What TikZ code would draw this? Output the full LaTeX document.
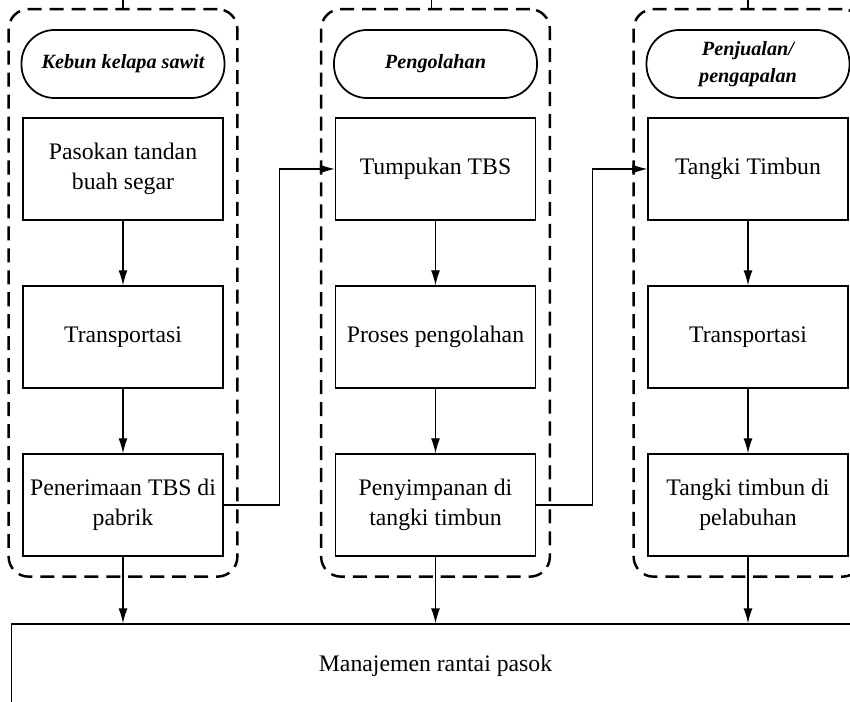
\documentclass[tikz,border=0pt]{standalone}
\usepackage{fontspec}
\setmainfont{Liberation Serif}
\usetikzlibrary{arrows.meta, fit}
\tikzset{every picture/.style={line width=0.75pt}}

\begin{document}
\begin{tikzpicture}[-,node distance=3.36cm,
        proc/.style={draw, minimum width=4cm, minimum height=2.04cm, align=center, font=\fontsize{13.5}{17}\selectfont},
        head/.style={draw, line width=1pt, rounded corners=0.66cm, minimum width=4.06cm, minimum height=1.36cm, align=center, font=\fontsize{11.5}{15}\selectfont\bfseries\itshape},
        group/.style={draw, line width=1.4pt, dash pattern=on 8pt off 4.5pt, rounded corners=0.4cm, inner xsep=0.24cm, inner ysep=0.4cm},
        flow/.style={-{Latex[length=3mm,width=1.8mm]}}]
        \useasboundingbox (0,0) rectangle (17,-14.04);
        \clip (0,0) rectangle (17,-14.04);
        \node[proc] (a1) at (2.46,-3.38) {Pasokan tandan\\buah segar};
        \node[proc,below of=a1] (a2) {Transportasi};
        \node[proc,below of=a2] (a3) {Penerimaan TBS di\\pabrik};
        \node[head,above of=a1,node distance=2.1cm] (ka) {Kebun kelapa sawit};
        \node[proc,right of=a1,node distance=6.25cm] (b1) {Tumpukan TBS};
        \node[proc,below of=b1] (b2) {Proses pengolahan};
        \node[proc,below of=b2] (b3) {Penyimpanan di\\tangki timbun};
        \node[head,above of=b1,node distance=2.1cm] (kb) {Pengolahan};
        \node[proc,right of=b1,node distance=6.25cm] (c1) {Tangki Timbun};
        \node[proc,below of=c1] (c2) {Transportasi};
        \node[proc,below of=c2] (c3) {Tangki timbun di\\pelabuhan};
        \node[head,above of=c1,node distance=2.1cm] (kc) {Penjualan/\\pengapalan};
        \node[draw,minimum width=16.96cm,minimum height=1.68cm,below of=b3,node distance=3.22cm,font=\fontsize{13.5}{17}\selectfont] (mrp) {Manajemen rantai pasok};
        % kelompok tahapan
        \node[group,fit=(ka)(a3)] (ga) {};
        \node[group,fit=(kb)(b3)] (gb) {};
        \node[group,fit=(kc)(c3)] (gc) {};
        \draw (ga.north) -- ++(0,0.4);
        \draw ([xshift=-0.08cm]gb.north) -- ++(0,0.4);
        \draw (kc |- gc.north) -- ++(0,0.4);
        \draw[flow]
            (a1) edge node{} (a2)
            (a2) edge node{} (a3)
            (b1) edge node{} (b2)
            (b2) edge node{} (b3)
            (c1) edge node{} (c2)
            (c2) edge node{} (c3)
            (a3) edge node{} (a3 |- mrp.north)
            (b3) edge node{} (b3 |- mrp.north)
            (c3) edge node{} (c3 |- mrp.north)
            ;
        \draw[flow] (a3.east) -- ++(1.12,0) |- (b1.west);
        \draw[flow] (b3.east) -- ++(1.12,0) |- (c1.west);
    \end{tikzpicture}
\end{document}
